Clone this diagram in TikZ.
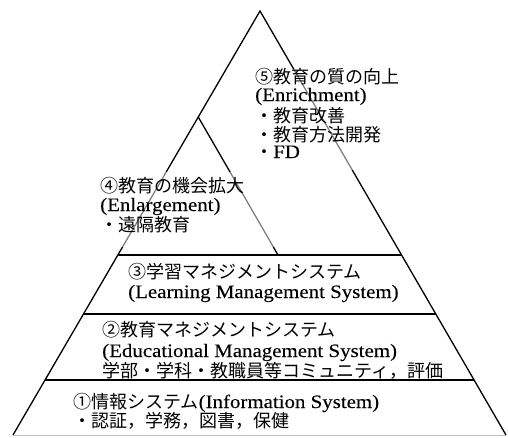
\documentclass[tikz,border=0pt]{standalone}
\usepackage{fontspec}
\setmainfont{Liberation Serif}[FakeStretch=1.1,FakeBold=0.15]
\newfontfamily\jpfont{Noto Sans CJK JP}
\newcommand{\J}[1]{{\jpfont\fontsize{18pt}{21pt}\selectfont #1}}
\usetikzlibrary{calc}
\begin{document}
\begin{tikzpicture}[x=1pt,y=-1pt,
  edge/.style={line width=1.3pt, black},
  baseedge/.style={line width=1pt, black!25},
  veil/.style={fill=white, fill opacity=0.5},
  txt/.style={inner sep=0pt, anchor=base west, font=\fontsize{19pt}{22pt}\selectfont}]
\useasboundingbox (0,0) rectangle (508,437);
% geometry
\coordinate (A) at (260,11);
\coordinate (BL) at (13,435);
\coordinate (BR) at (506,435);
\coordinate (L3) at ($(A)!0.5755!(BL)$);
\coordinate (R3) at ($(A)!0.5755!(BR)$);
\coordinate (L2) at ($(A)!0.7146!(BL)$);
\coordinate (R2) at ($(A)!0.7146!(BR)$);
\coordinate (L1) at ($(A)!0.8703!(BL)$);
\coordinate (R1) at ($(A)!0.8703!(BR)$);
\coordinate (I) at ($(A)!0.25!(BL)$);
\coordinate (IB) at (278,255);
% lines
\draw[baseedge] (BL) -- (BR);
\draw[edge] (BL) -- (A) -- (BR);
\draw[edge] (L3) -- (R3);
\draw[edge] (L2) -- (R2);
\draw[edge] (L1) -- (R1);
\draw[edge] (I) -- (IB);
% translucent text boxes
\fill[veil] (252,69) rectangle (402,170);
\fill[veil] (95,172) rectangle (285,247);
% texts
\node[txt] (t5a) at (255,83) {\J{⑤教育の質の向上}};
\node[txt] (t5b) at (255,101) {(Enrichment)};
\node[txt] (t5c) at (255,122) {\J{・教育改善}};
\node[txt] (t5d) at (255,141) {\J{・教育方法開発}};
\node[txt] (t5e) at (255,158) {\J{・}FD};
\node[txt] (t4a) at (100,192) {\J{④教育の機会拡大}};
\node[txt] (t4b) at (100,211) {(Enlargement)};
\node[txt] (t4c) at (100,231) {\J{・遠隔教育}};
\node[txt] (t3a) at (128,278) {\J{③学習マネジメントシステム}};
\node[txt] (t3b) at (128,298) {(Learning Management System)};
\node[txt] (t2a) at (102,336) {\J{②教育マネジメントシステム}};
\node[txt] (t2b) at (102,357) {(Educational Management System)};
\node[txt] (t2c) at (102,377) {\J{学部・学科・教職員等コミュニティ，評価}};
\node[txt] (t1a) at (73,408) {\J{①情報システム}(Information System)};
\node[txt] (t1b) at (73,427) {\J{・認証，学務，図書，保健}};
\end{tikzpicture}
\end{document}
